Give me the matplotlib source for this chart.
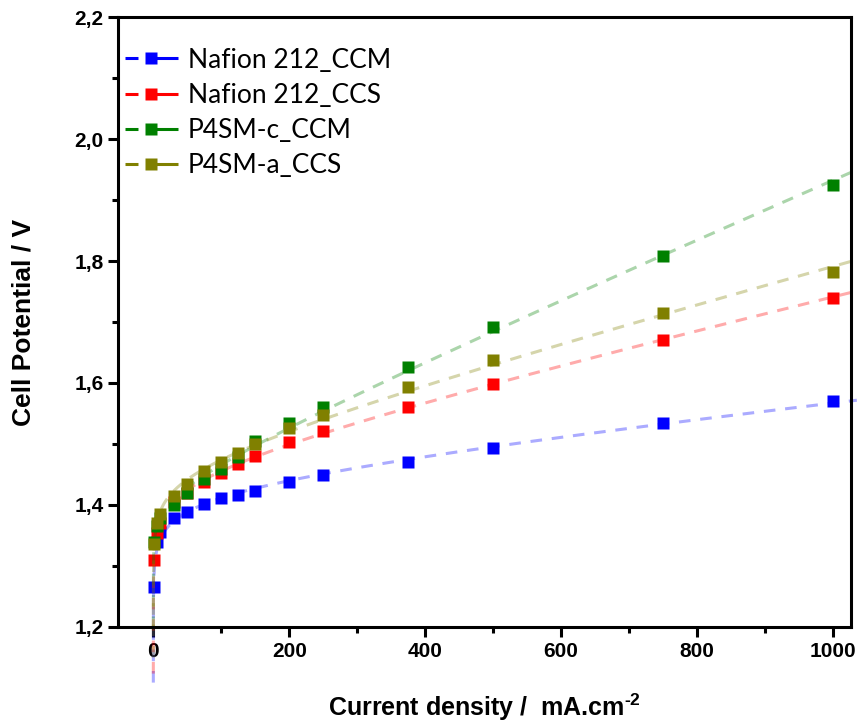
import numpy as np
import matplotlib
matplotlib.use('AGG')
import matplotlib.pyplot as plt
from matplotlib.lines import Line2D
from matplotlib.ticker import MultipleLocator

plt.rcParams['mathtext.fontset'] = 'custom'
plt.rcParams['mathtext.rm'] = 'Liberation Sans:bold'
plt.rcParams['mathtext.bf'] = 'Liberation Sans:bold'

# current density (mA/cm2)
current = [1, 5, 10, 30, 50, 75, 100, 125, 150, 200, 250, 375, 500, 750, 1000]

nafion_ccm = [1.266, 1.340, 1.356, 1.378, 1.389, 1.402, 1.411, 1.416, 1.423, 1.437, 1.449, 1.471, 1.493, 1.535, 1.570]
nafion_ccs = [1.310, 1.354, 1.370, 1.405, 1.419, 1.438, 1.453, 1.468, 1.481, 1.504, 1.521, 1.561, 1.598, 1.670, 1.740]
p4sm_c_ccm = [1.339, 1.365, 1.378, 1.400, 1.420, 1.443, 1.459, 1.479, 1.505, 1.535, 1.561, 1.626, 1.691, 1.809, 1.925]
p4sm_a_ccs = [1.336, 1.370, 1.385, 1.414, 1.434, 1.455, 1.471, 1.485, 1.500, 1.526, 1.548, 1.593, 1.637, 1.714, 1.782]

labels = ['Nafion 212_CCM', 'Nafion 212_CCS', 'P4SM-c_CCM', 'P4SM-a_CCS']
colors = ['#0000ff', '#ff0000', '#008000', '#808000']
series = [nafion_ccm, nafion_ccs, p4sm_c_ccm, p4sm_a_ccs]

fig = plt.figure(figsize=(8.58, 7.24), dpi=100)
ax = fig.add_axes([0.1375, 0.134, 0.854, 0.8425])

x = np.array(current, dtype=float)
xfit = np.geomspace(0.001, 1035, 3000)
handles = []
for vals, c, lab in zip(series, colors, labels):
    y = np.array(vals)
    # fit V = a + b*ln(i) + c*i (Tafel + ohmic)
    A = np.column_stack([np.ones_like(x), np.log(x), x])
    coef = np.linalg.lstsq(A, y, rcond=None)[0]
    yfit = coef[0] + coef[1] * np.log(xfit) + coef[2] * xfit
    m = yfit > 1.095
    ax.plot(xfit[m], yfit[m], '--', color=c, alpha=0.33, lw=2.2, dashes=(3.8, 3.2), clip_on=False)
    ax.plot(x, y, 's', color=c, ms=9, mec='none', linestyle='none')
    handles.append(Line2D([], [], color=c, marker='s', ms=8.5, mec='none', ls='--', lw=2.2,
                          dashes=(4.25, 3.9, 9.2, 1)))

ax.set_xlim(-52, 1026)
ax.set_ylim(1.2, 2.2)
ax.xaxis.set_major_locator(MultipleLocator(200))
ax.xaxis.set_minor_locator(MultipleLocator(100))
ax.yaxis.set_major_locator(MultipleLocator(0.2))
ax.yaxis.set_minor_locator(MultipleLocator(0.1))
ax.yaxis.set_major_formatter(matplotlib.ticker.FuncFormatter(lambda v, p: ('%.1f' % v).replace('.', ',')))

for s in ax.spines.values():
    s.set_linewidth(2.2)
ax.tick_params(which='major', direction='out', length=7, width=2.2)
ax.tick_params(which='minor', direction='out', length=4, width=2.2)
for t in ax.get_xticklabels() + ax.get_yticklabels():
    t.set_fontfamily(['Liberation Sans Narrow', 'Liberation Sans'])
    t.set_fontweight('bold')
    t.set_fontsize(15)

ax.set_xlabel('Current density /  mA.cm$^{\\text{-}2}$', fontsize=18, fontweight='bold',
              family='Liberation Sans', labelpad=22)
ax.set_ylabel('Cell Potential / V', fontsize=19, fontweight='bold', family='Liberation Sans')
ax.yaxis.set_label_coords(-0.113, 0.5)

leg = ax.legend(handles, labels, loc='upper left', bbox_to_anchor=(0.0095, 0.95), frameon=False,
                prop={'family': 'Lato', 'size': 19}, handlelength=2.0, handletextpad=0.38,
                labelspacing=0.39, borderpad=0, borderaxespad=0)

plt.savefig('out.png', dpi=100)
